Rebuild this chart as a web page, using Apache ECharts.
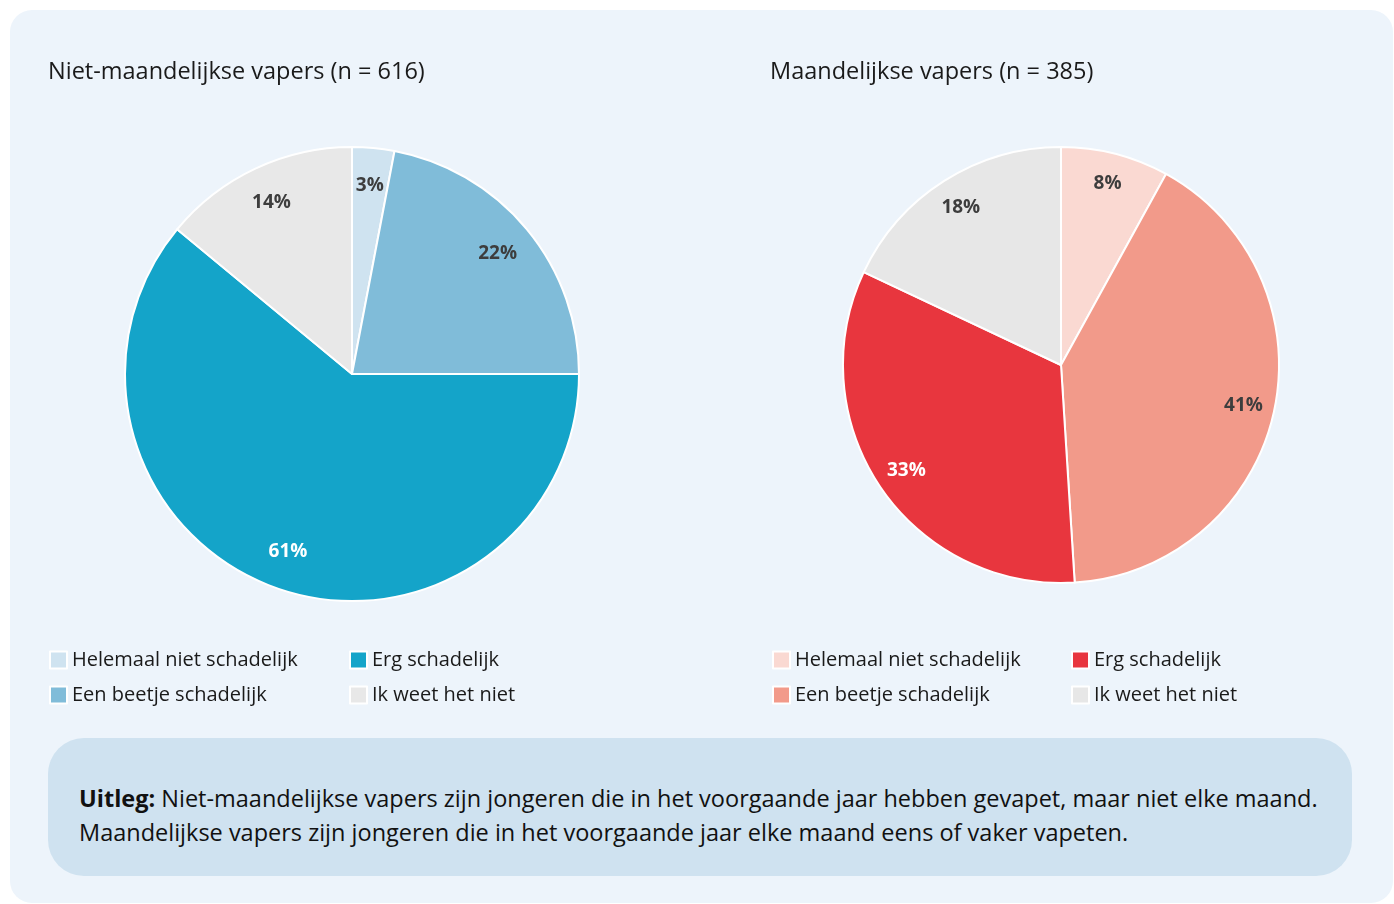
<!DOCTYPE html>
<html lang="nl">
<head>
	<meta charset="utf-8" />
	<title>Vapers schadelijkheid</title>
	<script src="https://cdn.jsdelivr.net/npm/echarts@6/dist/echarts.min.js"></script>
	<style>
		html, body { margin: 0; padding: 0; background: #ffffff; }
		body { width: 1394px; height: 904px; position: relative; overflow: hidden; font-family: "Open Sans", sans-serif; }
		.panel { position: absolute; left: 10px; top: 10px; width: 1383px; height: 893px; background: #edf4fb; border-radius: 22px; }
		.chart { position: absolute; top: 0; width: 697px; height: 730px; }
		#chartLeft { left: 0; }
		#chartRight { left: 697px; }
		.uitleg { position: absolute; left: 48px; top: 738px; width: 1304px; height: 138px; box-sizing: border-box;
			background: #cfe2f0; border-radius: 36px; padding: 43px 0 0 31px; font-size: 23.5px; line-height: 34px; color: #111; white-space: nowrap; }
	</style>
</head>
<body>
	<div class="panel"></div>
	<div class="chart" id="chartLeft"></div>
	<div class="chart" id="chartRight"></div>
	<div class="uitleg"><b>Uitleg:</b> Niet-maandelijkse vapers zijn jongeren die in het voorgaande jaar hebben gevapet, maar niet elke maand.<br />Maandelijkse vapers zijn jongeren die in het voorgaande jaar elke maand eens of vaker vapeten.</div>
	<script type="text/javascript">
		// categorieen en waarden (%)
		const categories = ["Helemaal niet schadelijk", "Een beetje schadelijk", "Erg schadelijk", "Ik weet het niet"];
		const nietMaandelijks = [3, 22, 61, 14];
		const maandelijks = [8, 41, 33, 18];
		const titles = ["Niet-maandelijkse vapers (n = 616)", "Maandelijkse vapers (n = 385)"];

		const blueColors = ["#cfe3f0", "#80bcd9", "#14a4c9", "#e8e8e8"];
		const redColors = ["#fad9d2", "#f29a8a", "#e8363e", "#e7e7e7"];
		const labelColors = ["#3d3d3d", "#3d3d3d", "#ffffff", "#3d3d3d"];
		const font = "Open Sans";

		function buildOption(title, values, colors, cfg) {
			const pieData = categories.map(function (name, i) {
				return { name: name, value: values[i], itemStyle: { color: colors[i] } };
			});
			// transparante ring alleen voor de labels
			const labelData = categories.map(function (name, i) {
				return { name: name, value: values[i], label: { color: labelColors[i] } };
			});
			const legendBase = {
				orient: "vertical",
				top: cfg.legendTop,
				padding: 0,
				itemGap: 15,
				itemWidth: 17,
				itemHeight: 17,
				icon: "rect",
				selectedMode: false,
				textStyle: { fontFamily: font, fontSize: 20, lineHeight: 20, color: "#1a1a1a" }
			};
			return {
				animation: false,
				title: {
					text: title,
					left: cfg.titleLeft,
					top: cfg.titleTop,
					padding: 0,
					textStyle: { fontFamily: font, fontSize: 23.5, fontWeight: "normal", color: "#1a1a1a" }
				},
				legend: [
					Object.assign({ left: cfg.legendLeft[0], data: [categories[0], categories[1]] }, legendBase),
					Object.assign({ left: cfg.legendLeft[1], data: [categories[2], categories[3]] }, legendBase)
				],
				series: [{
					name: title,
					type: "pie",
					center: cfg.center,
					radius: cfg.radius,
					startAngle: 90,
					clockwise: true,
					silent: true,
					label: { show: false },
					labelLine: { show: false },
					itemStyle: { borderColor: "#ffffff", borderWidth: 2 },
					data: pieData
				}, {
					name: title + " labels",
					type: "pie",
					center: cfg.center,
					radius: [Math.round(cfg.radius * cfg.labelRing), cfg.radius],
					startAngle: 90,
					clockwise: true,
					silent: true,
					avoidLabelOverlap: false,
					itemStyle: { color: "rgba(0,0,0,0)", borderWidth: 0 },
					label: {
						show: true,
						position: "inside",
						formatter: "{c}%",
						fontFamily: font,
						fontSize: 19,
						fontWeight: "bold"
					},
					labelLine: { show: false },
					data: labelData
				}]
			};
		}

		const leftChart = echarts.init(document.getElementById("chartLeft"));
		leftChart.setOption(buildOption(titles[0], nietMaandelijks, blueColors, {
			center: [352, 374], radius: 227, labelRing: 0.64, titleLeft: 48, titleTop: 60,
			legendTop: 650, legendLeft: [49, 349]
		}));

		const rightChart = echarts.init(document.getElementById("chartRight"));
		rightChart.setOption(buildOption(titles[1], maandelijks, redColors, {
			center: [364, 365], radius: 218, labelRing: 0.69, titleLeft: 73, titleTop: 60,
			legendTop: 650, legendLeft: [75, 374]
		}));
	</script>
</body>
</html>
